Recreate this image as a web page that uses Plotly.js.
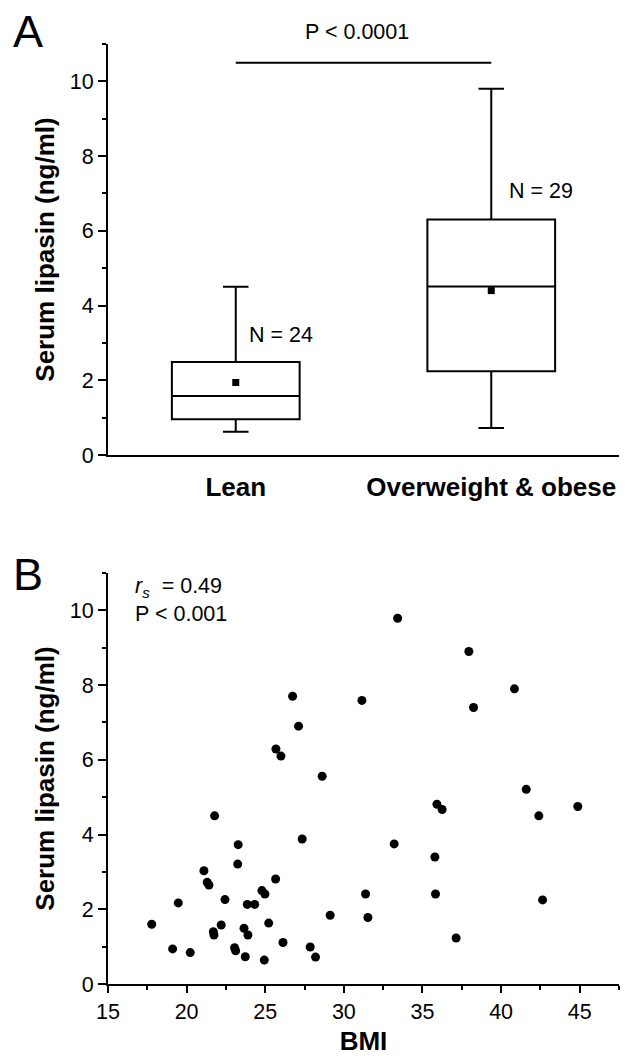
<!DOCTYPE html>
<html>
<head>
<meta charset="utf-8">
<script src="https://cdn.plot.ly/plotly-3.0.1.min.js"></script>
<style>html,body{margin:0;padding:0;background:#fff;}#chart{width:628px;height:1056px;}</style>
</head>
<body>
<div id="chart"></div>
<script>
// ---- Panel A data (box summaries) ----
var groups = ['Lean', 'Overweight & obese'];
var q1 = [0.96, 2.24];
var medians = [1.58, 4.51];
var q3 = [2.49, 6.30];
var lowerWhisker = [0.62, 0.72];
var upperWhisker = [4.50, 9.80];
var means = [1.94, 4.40];
var groupN = ['N = 24', 'N = 29'];

// ---- Panel B data (BMI vs serum lipasin) ----
var bmi = [21.78, 23.28, 23.25, 21.10, 21.31, 21.42, 25.66, 24.79, 24.98, 19.47,
           22.44, 23.86, 24.33, 17.78, 22.20, 21.70, 21.74, 23.65, 23.90, 25.22,
           26.13, 19.11, 20.23, 23.05, 23.12, 23.73, 24.94, 35.92, 36.25, 27.35,
           33.20, 35.79, 31.38, 35.83, 29.13, 31.53, 27.86, 28.20, 37.14, 33.42,
           26.74, 31.15, 27.12, 25.68, 26.00, 28.62, 37.95, 40.85, 38.25, 41.60,
           44.88, 42.40, 42.64];
var lipasin = [4.50, 3.73, 3.21, 3.03, 2.72, 2.65, 2.81, 2.50, 2.41, 2.17,
               2.26, 2.13, 2.13, 1.60, 1.58, 1.40, 1.31, 1.49, 1.31, 1.63,
               1.11, 0.94, 0.84, 0.97, 0.89, 0.73, 0.64, 4.81, 4.67, 3.88,
               3.75, 3.40, 2.41, 2.41, 1.84, 1.78, 0.99, 0.72, 1.23, 9.79,
               7.70, 7.59, 6.90, 6.29, 6.10, 5.56, 8.90, 7.90, 7.40, 5.21,
               4.75, 4.50, 2.25];

var yTicks = [0, 2, 4, 6, 8, 10];
var yMinor = [1, 3, 5, 7, 9, 11];
var bmiTicks = [15, 20, 25, 30, 35, 40, 45];
var bmiMinor = [17.5, 22.5, 27.5, 32.5, 37.5, 42.5, 47.5];
var pTextA = 'P < 0.0001';
var rsText = '<i>r<sub>s</sub></i>  = 0.49';
var pTextB = 'P < 0.001';

var FONT = 'Arial, "Liberation Sans", Helvetica, sans-serif';
var W = 628, H = 1056, ML = 108, MR = 9, MT = 44, MB = 72;
var PW = W - ML - MR, PH = H - MT - MB;
function px2x(px) { return (px - ML) / PW; }
function px2y(py) { return (H - MB - py) / PH; }

var traces = [
  {
    type: 'box',
    x: groups,
    q1: q1, median: medians, q3: q3,
    lowerfence: lowerWhisker, upperfence: upperWhisker,
    boxpoints: false,
    width: 0.5,
    whiskerwidth: 0.2,
    line: {color: '#000', width: 2},
    fillcolor: '#fff',
    xaxis: 'x', yaxis: 'y',
    hoverinfo: 'skip'
  },
  {
    type: 'scatter', mode: 'markers',
    x: groups, y: means,
    marker: {symbol: 'square', size: 7, color: '#000'},
    xaxis: 'x', yaxis: 'y',
    hoverinfo: 'skip'
  },
  {
    type: 'scatter', mode: 'markers',
    x: bmi, y: lipasin,
    marker: {symbol: 'circle', size: 9, color: '#000'},
    xaxis: 'x2', yaxis: 'y2',
    cliponaxis: false,
    hoverinfo: 'skip'
  }
];

function yAxisCommon(domain, anchor) {
  return {
    domain: domain, anchor: anchor,
    range: [0, 11],
    tickvals: yTicks, ticktext: yTicks.map(String),
    ticks: 'outside', ticklen: 8, tickwidth: 2, tickcolor: '#000',
    minor: {tickvals: yMinor, ticks: 'outside', ticklen: 4, tickwidth: 2, tickcolor: '#000', showgrid: false},
    showline: true, linewidth: 2, linecolor: '#000',
    showgrid: false, zeroline: false,
    tickfont: {family: FONT, size: 21.5, color: '#000'},
    title: {text: 'Serum lipasin (ng/ml)', font: {family: FONT, size: 26, color: '#000', weight: 'bold'}, standoff: 8},
    fixedrange: true
  };
}

var layout = {
  width: W, height: H,
  margin: {l: ML, r: MR, t: MT, b: MB, pad: 0},
  paper_bgcolor: '#fff', plot_bgcolor: '#fff',
  showlegend: false,
  font: {family: FONT, color: '#000'},
  xaxis: {
    domain: [0, 1], anchor: 'y',
    type: 'category', range: [-0.5, 1.5],
    showline: true, linewidth: 2, linecolor: '#000',
    ticks: '', showgrid: false, zeroline: false,
    tickfont: {family: FONT, size: 26, color: '#000', weight: 'bold'},
    ticklabelstandoff: 8,
    fixedrange: true
  },
  yaxis: yAxisCommon([px2y(455), 1], 'x'),
  xaxis2: {
    domain: [0, 1], anchor: 'y2',
    range: [15, 47.5],
    tickvals: bmiTicks,
    ticks: 'outside', ticklen: 7, tickwidth: 2, tickcolor: '#000',
    minor: {tickvals: bmiMinor, ticks: 'outside', ticklen: 4, tickwidth: 2, tickcolor: '#000', showgrid: false},
    showline: true, linewidth: 2, linecolor: '#000',
    showgrid: false, zeroline: false,
    tickfont: {family: FONT, size: 21.5, color: '#000'},
    title: {text: 'BMI', font: {family: FONT, size: 26, color: '#000', weight: 'bold'}, standoff: 24},
    fixedrange: true
  },
  yaxis2: yAxisCommon([0, px2y(573)], 'x2'),
  shapes: [
    {type: 'line', xref: 'x', yref: 'y', x0: 0, x1: 1, y0: 10.5, y1: 10.5,
     line: {color: '#000', width: 2}}
  ],
  annotations: [
    {xref: 'paper', yref: 'paper', x: px2x(28), y: px2y(31), text: 'A', showarrow: false,
     xanchor: 'center', yanchor: 'middle', font: {family: FONT, size: 45, color: '#000'}},
    {xref: 'paper', yref: 'paper', x: px2x(28), y: px2y(574), text: 'B', showarrow: false,
     xanchor: 'center', yanchor: 'middle', font: {family: FONT, size: 45, color: '#000'}},
    {xref: 'x', yref: 'paper', x: 0.475, y: px2y(32), text: pTextA, showarrow: false,
     xanchor: 'center', yanchor: 'middle', font: {family: FONT, size: 21.5, color: '#000'}},
    {xref: 'x', yref: 'y', x: 0.045, y: 3.2, text: groupN[0], showarrow: false,
     xanchor: 'left', yanchor: 'middle', font: {family: FONT, size: 21.5, color: '#000'}},
    {xref: 'x', yref: 'y', x: 1.06, y: 7.07, text: groupN[1], showarrow: false,
     xanchor: 'left', yanchor: 'middle', font: {family: FONT, size: 21.5, color: '#000'}},
    {xref: 'x2', yref: 'y2', x: 16.6, y: 10.62, text: rsText, showarrow: false,
     xanchor: 'left', yanchor: 'middle', font: {family: FONT, size: 21.5, color: '#000'}},
    {xref: 'x2', yref: 'y2', x: 16.6, y: 9.9, text: pTextB, showarrow: false,
     xanchor: 'left', yanchor: 'middle', font: {family: FONT, size: 21.5, color: '#000'}}
  ]
};

Plotly.newPlot('chart', traces, layout, {staticPlot: true, displayModeBar: false});
</script>
</body>
</html>
